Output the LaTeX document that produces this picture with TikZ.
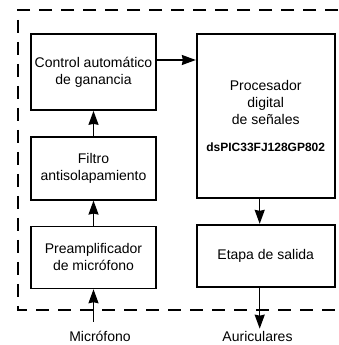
\documentclass[tikz,border=0pt]{standalone}
\usepackage{fontspec}
\setmainfont{Liberation Sans}
\usetikzlibrary{arrows.meta, positioning}

\begin{document}
\begin{tikzpicture}[x=1pt, y=1pt,
    node distance=25pt,
    blok/.style={draw, line width=1.7pt, minimum width=125pt, align=center, font=\fontsize{14}{17}\selectfont},
    etiq/.style={inner sep=2pt, font=\fontsize{14}{17}\selectfont},
    flecha/.style={draw, line width=1.5pt, -{Stealth[length=14pt, width=10pt, inset=1pt]}},
    marco/.style={draw, line width=1.5pt, dash pattern=on 13pt off 9pt}
]
    \useasboundingbox (0,0) rectangle (338,345);

    % Frame of the board
    \draw[marco] (338,335) -- (18,335) -- (18,35) -- (338,35);

    % Analog chain
    \node[blok, minimum height=76pt] (agc) at (93.5,273) {Control automático\\de ganancia};
    \node[blok, minimum height=63pt, below=of agc] (filtro) {Filtro\\antisolapamiento};
    \node[blok, minimum height=62pt, below=of filtro] (preamp) {Preamplificador\\de micrófono};

    % DSP and output
    \node[blok, minimum width=138pt, minimum height=164pt, anchor=north west] (dsp)
        at ([xshift=39pt]agc.north east)
        {Procesador\\digital\\de señales\\[10pt]{\bfseries\fontsize{12}{14}\selectfont dsPIC33FJ128GP802}};
    \node[blok, minimum width=138pt, minimum height=62pt, below=of dsp] (salida) {Etapa de salida};

    % Outside
    \node[etiq] (mic) at (100,9) {Micrófono};
    \node[etiq] (auri) at (257.5,9) {Auriculares};
    \coordinate (agcout) at ([yshift=12pt]agc.east);

    % Connections
    \draw[flecha] (preamp.south |- 0,23) -- (preamp.south);
    \draw[flecha] (preamp) -- (filtro);
    \draw[flecha] (filtro) -- (agc);
    \draw[flecha] (agcout) -- (dsp.west |- agcout);
    \draw[flecha] ([xshift=-6pt]dsp.south) -- ([xshift=-6pt]salida.north);
    \draw[flecha] ([xshift=-6pt]salida.south) -- ([xshift=-6pt]salida.south |- auri.north);
\end{tikzpicture}
\end{document}
